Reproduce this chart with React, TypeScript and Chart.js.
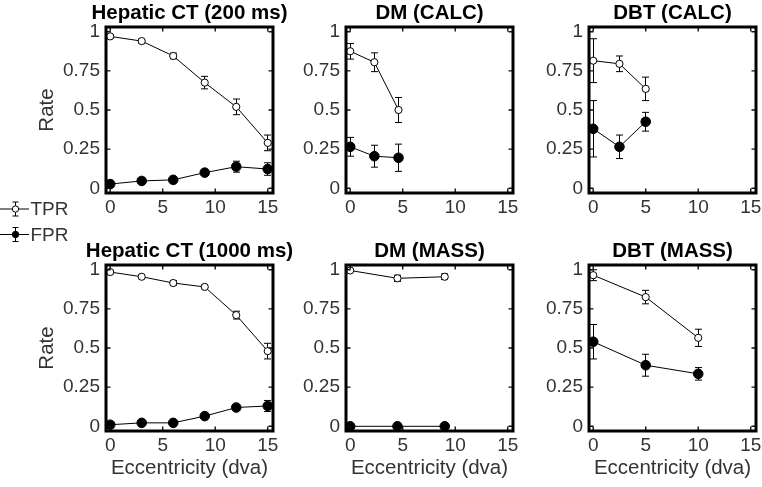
import React, { useEffect, useRef } from 'react';
import { Chart, registerables } from 'chart.js';

Chart.register(...registerables);

// ---------------- data ----------------
const X_TICKS = [0, 5, 10, 15];
const X_TICK_LABELS = ['0', '5', '10', '15'];
const Y_TICKS = [0, 0.25, 0.5, 0.75, 1];
const Y_TICK_LABELS = ['0', '0.25', '0.5', '0.75', '1'];
const SERIES_NAMES = ['TPR', 'FPR'];
const PANEL_TITLES = [
  'Hepatic CT (200 ms)',
  'DM (CALC)',
  'DBT (CALC)',
  'Hepatic CT (1000 ms)',
  'DM (MASS)',
  'DBT (MASS)',
];
const X_LABEL = 'Eccentricity (dva)';
const Y_LABEL = 'Rate';

const HCT200_ECC = [0, 3, 6, 9, 12, 15];
const HCT200_TPR = [0.97, 0.94, 0.845, 0.675, 0.52, 0.29];
const HCT200_TPR_ERR = [0.012, 0.012, 0.018, 0.04, 0.05, 0.05];
const HCT200_FPR = [0.027, 0.047, 0.054, 0.1, 0.138, 0.123];
const HCT200_FPR_ERR = [0.008, 0.008, 0.01, 0.015, 0.035, 0.04];

const DMCALC_ECC = [0, 2.3, 4.6];
const DMCALC_TPR = [0.875, 0.805, 0.5];
const DMCALC_TPR_ERR = [0.05, 0.06, 0.08];
const DMCALC_FPR = [0.265, 0.205, 0.195];
const DMCALC_FPR_ERR = [0.06, 0.07, 0.087];

const DBTCALC_ECC = [0, 2.5, 5];
const DBTCALC_TPR = [0.815, 0.795, 0.635];
const DBTCALC_TPR_ERR = [0.14, 0.05, 0.075];
const DBTCALC_FPR = [0.38, 0.265, 0.425];
const DBTCALC_FPR_ERR = [0.18, 0.075, 0.06];

const HCT1000_ECC = [0, 3, 6, 9, 12, 15];
const HCT1000_TPR = [0.985, 0.955, 0.915, 0.89, 0.71, 0.48];
const HCT1000_TPR_ERR = [0.01, 0.012, 0.015, 0.012, 0.025, 0.05];
const HCT1000_FPR = [0.01, 0.022, 0.022, 0.065, 0.12, 0.13];
const HCT1000_FPR_ERR = [0.005, 0.008, 0.008, 0.01, 0.015, 0.035];

const DMMASS_ECC = [0, 4.5, 9];
const DMMASS_TPR = [0.995, 0.945, 0.955];
const DMMASS_TPR_ERR = [0.005, 0.02, 0.018];
const DMMASS_FPR = [0, 0, 0];
const DMMASS_FPR_ERR = [0, 0, 0];

const DBTMASS_ECC = [0, 5, 10];
const DBTMASS_TPR = [0.965, 0.825, 0.565];
const DBTMASS_TPR_ERR = [0.035, 0.043, 0.055];
const DBTMASS_FPR = [0.54, 0.39, 0.335];
const DBTMASS_FPR_ERR = [0.11, 0.07, 0.04];

const PANELS = [
  { ecc: HCT200_ECC, tpr: HCT200_TPR, tprErr: HCT200_TPR_ERR, fpr: HCT200_FPR, fprErr: HCT200_FPR_ERR },
  { ecc: DMCALC_ECC, tpr: DMCALC_TPR, tprErr: DMCALC_TPR_ERR, fpr: DMCALC_FPR, fprErr: DMCALC_FPR_ERR },
  { ecc: DBTCALC_ECC, tpr: DBTCALC_TPR, tprErr: DBTCALC_TPR_ERR, fpr: DBTCALC_FPR, fprErr: DBTCALC_FPR_ERR },
  { ecc: HCT1000_ECC, tpr: HCT1000_TPR, tprErr: HCT1000_TPR_ERR, fpr: HCT1000_FPR, fprErr: HCT1000_FPR_ERR },
  { ecc: DMMASS_ECC, tpr: DMMASS_TPR, tprErr: DMMASS_TPR_ERR, fpr: DMMASS_FPR, fprErr: DMMASS_FPR_ERR },
  { ecc: DBTMASS_ECC, tpr: DBTMASS_TPR, tprErr: DBTMASS_TPR_ERR, fpr: DBTMASS_FPR, fprErr: DBTMASS_FPR_ERR },
];

// ---------------- layout ----------------
const PLOT_LEFT = [106, 346, 589];
const PLOT_W = 167;
const PLOT_TOP = [27, 265];
const PLOT_H = 166;
const TITLE_H = 27;
const SIDE_W = 70;
const FONT = "'Liberation Sans', Arial, Helvetica, sans-serif";
const TEXT_COLOR = '#333333';

function makePlugin(showLegend: boolean) {
  return {
    id: 'matlabFrame',
    beforeDatasetsDraw(chart: any) {
      const ctx = chart.ctx;
      const ys = chart.scales.y;
      ctx.save();
      ctx.strokeStyle = '#000';
      ctx.lineWidth = 1;
      chart.data.datasets.forEach((ds: any, i: number) => {
        const meta = chart.getDatasetMeta(i);
        meta.data.forEach((el: any, j: number) => {
          const e = ds.errors[j];
          if (!e) return;
          const v = ds.data[j].y;
          const y1 = ys.getPixelForValue(v - e);
          const y2 = ys.getPixelForValue(v + e);
          const cap = 3.5;
          const x = Math.round(el.x - 0.5) + 0.5;
          ctx.beginPath();
          ctx.moveTo(x, y1);
          ctx.lineTo(x, y2);
          ctx.moveTo(x - cap, y1);
          ctx.lineTo(x + cap, y1);
          ctx.moveTo(x - cap, y2);
          ctx.lineTo(x + cap, y2);
          ctx.stroke();
        });
      });
      ctx.restore();
    },
    afterDraw(chart: any) {
      const ctx = chart.ctx;
      const { left, right, top, bottom } = chart.chartArea;
      const xs = chart.scales.x;
      const ys = chart.scales.y;
      ctx.save();
      ctx.strokeStyle = '#111';
      ctx.lineWidth = 1.4;
      ctx.beginPath();
      xs.ticks.forEach((t: any) => {
        const px = xs.getPixelForValue(t.value);
        ctx.moveTo(px, bottom);
        ctx.lineTo(px, bottom - 4.5);
        ctx.moveTo(px, top);
        ctx.lineTo(px, top + 4.5);
      });
      ys.ticks.forEach((t: any) => {
        const py = ys.getPixelForValue(t.value);
        ctx.moveTo(left, py);
        ctx.lineTo(left + 4.5, py);
        ctx.moveTo(right, py);
        ctx.lineTo(right - 4.5, py);
      });
      ctx.stroke();
      ctx.strokeStyle = '#000';
      ctx.lineWidth = 3;
      ctx.strokeRect(left, top, right - left, bottom - top);

      if (showLegend) {
        const rows = [209, 234.5];
        chart.data.datasets.forEach((ds: any, i: number) => {
          const y = rows[i];
          const mx = 15.5;
          ctx.strokeStyle = '#000';
          ctx.lineWidth = 1;
          ctx.beginPath();
          ctx.moveTo(0, y);
          ctx.lineTo(29, y);
          ctx.moveTo(mx, y - 7);
          ctx.lineTo(mx, y + 7);
          ctx.moveTo(mx - 3, y - 7);
          ctx.lineTo(mx + 3, y - 7);
          ctx.moveTo(mx - 3, y + 7);
          ctx.lineTo(mx + 3, y + 7);
          ctx.stroke();
          ctx.beginPath();
          ctx.arc(mx, y, 3.2, 0, Math.PI * 2);
          ctx.fillStyle = ds.pointBackgroundColor;
          ctx.fill();
          ctx.stroke();
          ctx.fillStyle = TEXT_COLOR;
          ctx.font = `19px ${FONT}`;
          ctx.textAlign = 'left';
          ctx.textBaseline = 'middle';
          ctx.fillText(ds.label, 30.5, y + 1);
        });
      }
      ctx.restore();
    },
  };
}

function Panel({ idx }: { idx: number }) {
  const ref = useRef<HTMLCanvasElement | null>(null);
  const col = idx % 3;
  const row = Math.floor(idx / 3);
  const yW = col === 0 ? PLOT_LEFT[0] : SIDE_W;
  const bottomH = row === 1 ? 50 : col === 0 ? 60 : 30;
  const cw = 2 * yW + PLOT_W;
  const ch = TITLE_H + PLOT_H + bottomH;

  useEffect(() => {
    const p = PANELS[idx];
    const cfg: any = {
      type: 'scatter',
      data: {
        datasets: [
          {
            label: SERIES_NAMES[0],
            data: p.ecc.map((x, i) => ({ x, y: p.tpr[i] })),
            errors: p.tprErr,
            showLine: true,
            borderColor: '#000',
            borderWidth: 1,
            pointRadius: 3.6,
            pointBorderWidth: 1,
            pointBackgroundColor: '#ffffff',
            pointBorderColor: '#000',
            clip: false,
          },
          {
            label: SERIES_NAMES[1],
            data: p.ecc.map((x, i) => ({ x, y: p.fpr[i] })),
            errors: p.fprErr,
            showLine: true,
            borderColor: '#000',
            borderWidth: 1,
            pointRadius: 4.8,
            pointBorderWidth: 1,
            pointBackgroundColor: '#000000',
            pointBorderColor: '#000',
            clip: false,
          },
        ],
      },
      options: {
        animation: false,
        responsive: false,
        devicePixelRatio: 1,
        events: [],
        layout: { padding: 0 },
        plugins: {
          legend: { display: false },
          tooltip: { enabled: false },
          title: {
            display: true,
            text: PANEL_TITLES[idx],
            color: '#000',
            font: { family: FONT, size: 20.5, weight: 'bold' },
            padding: { top: 1.2, bottom: 1.2 },
          },
        },
        scales: {
          x: {
            type: 'linear',
            position: 'bottom',
            min: -0.4,
            max: 15.5,
            afterBuildTicks: (s: any) => {
              s.ticks = X_TICKS.map((v) => ({ value: v }));
            },
            afterFit: (s: any) => {
              s.height = bottomH;
            },
            grid: { display: false, drawTicks: false },
            border: { display: false },
            ticks: {
              autoSkip: false,
              maxRotation: 0,
              padding: 3,
              color: TEXT_COLOR,
              font: { family: FONT, size: 19 },
              callback: (v: number) => X_TICK_LABELS[X_TICKS.indexOf(v)],
            },
            title: {
              display: row === 1,
              text: X_LABEL,
              color: TEXT_COLOR,
              font: { family: FONT, size: 20.5 },
              padding: { top: 0, bottom: 0 },
            },
          },
          y: {
            type: 'linear',
            position: 'left',
            min: -0.03,
            max: 1.03,
            afterBuildTicks: (s: any) => {
              s.ticks = Y_TICKS.map((v) => ({ value: v }));
            },
            afterFit: (s: any) => {
              s.width = yW;
            },
            grid: { display: false, drawTicks: false },
            border: { display: false },
            ticks: {
              autoSkip: false,
              padding: 6,
              color: TEXT_COLOR,
              font: { family: FONT, size: 19 },
              callback: (v: number) => Y_TICK_LABELS[Y_TICKS.indexOf(v)],
            },
            title: {
              display: col === 0,
              text: Y_LABEL,
              color: TEXT_COLOR,
              font: { family: FONT, size: 20.5 },
              padding: { top: 35, bottom: 0 },
            },
          },
          y2: {
            type: 'linear',
            position: 'right',
            min: 0,
            max: 1,
            display: true,
            afterFit: (s: any) => {
              s.width = yW;
            },
            grid: { display: false, drawTicks: false },
            border: { display: false },
            ticks: { display: false },
          },
        },
      },
      plugins: [makePlugin(idx === 0)],
    };
    const chart = new Chart(ref.current as HTMLCanvasElement, cfg);
    return () => chart.destroy();
  }, [idx]);

  return (
    <canvas
      ref={ref}
      width={cw}
      height={ch}
      style={{
        position: 'absolute',
        left: PLOT_LEFT[col] - yW,
        top: PLOT_TOP[row] - TITLE_H,
        width: cw,
        height: ch,
      }}
    />
  );
}

export default function App() {
  return (
    <div
      style={{
        position: 'absolute',
        left: 0,
        top: 0,
        width: 762,
        height: 487,
        overflow: 'hidden',
        background: '#ffffff',
      }}
    >
      {PANELS.map((_, i) => (
        <Panel key={i} idx={i} />
      ))}
    </div>
  );
}
